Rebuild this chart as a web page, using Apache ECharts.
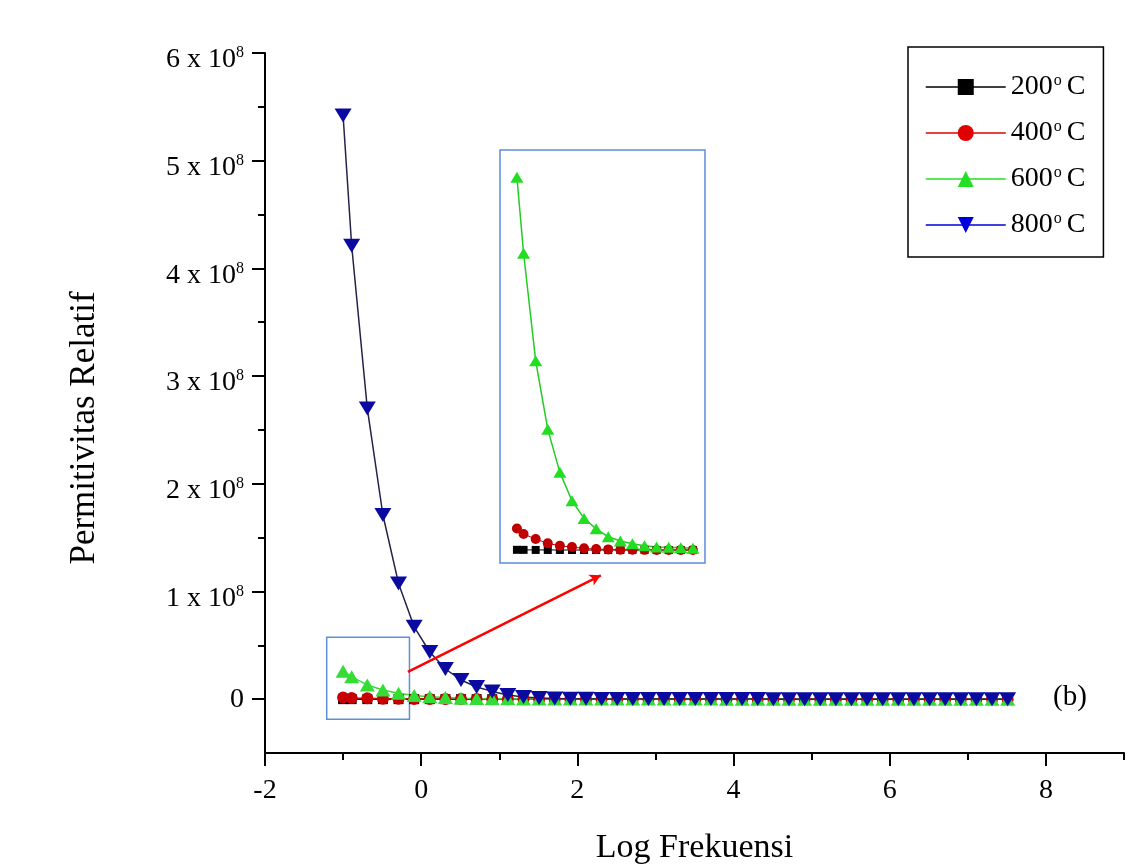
<!DOCTYPE html>
<html><head><meta charset="utf-8">
<script src="https://cdn.jsdelivr.net/npm/echarts@6/dist/echarts.min.js"></script>
<style>html,body{margin:0;padding:0;background:#fff}#chart{width:1146px;height:864px}</style>
</head><body><div id="chart"></div>
<script>
// ---- data ----
const logFreq = [-1.00, -0.89, -0.69, -0.49, -0.29, -0.09, 0.11, 0.31, 0.51, 0.71, 0.91, 1.11, 1.31, 1.51, 1.71, 1.91,
  2.11, 2.31, 2.51, 2.71, 2.91, 3.11, 3.31, 3.51, 3.71, 3.91, 4.11, 4.31, 4.51, 4.71, 4.91, 5.11, 5.31, 5.51, 5.71, 5.91,
  6.11, 6.31, 6.51, 6.71, 6.91, 7.11, 7.31, 7.51];
const eps200 = [2.0e4, 1.6e4, 1.2e4, 9.0e3, 7.0e3, 5.5e3, 4.3e3, 3.4e3, 2.7e3, 2.2e3, 1.8e3, 1.5e3, 1.25e3, 1.05e3, 900, 780,
  680, 600, 530, 470, 420, 380, 340, 310, 280, 255, 235, 215, 198, 183, 170, 158, 147, 137, 128, 120, 112, 105, 99, 93, 88, 83, 78, 74];
const eps400 = [1.51e6, 1.12e6, 7.7e5, 4.7e5, 3.0e5, 2.1e5, 1.2e5, 7.0e4, 5.0e4, 3.0e4, 2.2e4, 1.6e4, 1.2e4, 9.5e3, 7.6e3, 6.2e3,
  5.1e3, 4.3e3, 3.6e3, 3.1e3, 2.7e3, 2.3e3, 2.0e3, 1.8e3, 1.6e3, 1.4e3, 1.25e3, 1.1e3, 1.0e3, 900, 810, 730, 660, 600, 545, 495,
  450, 410, 375, 340, 310, 285, 260, 240];
const eps600 = [2.60e7, 2.07e7, 1.32e7, 8.42e6, 5.42e6, 3.44e6, 2.21e6, 1.49e6, 9.3e5, 6.3e5, 4.4e5, 3.0e5, 2.1e5, 1.9e5, 1.6e5, 1.2e5,
  1.0e5, 8.5e4, 7.2e4, 6.1e4, 5.2e4, 4.5e4, 3.9e4, 3.4e4, 3.0e4, 2.6e4, 2.3e4, 2.0e4, 1.8e4, 1.6e4, 1.4e4, 1.25e4, 1.1e4, 9.8e3,
  8.7e3, 7.7e3, 6.9e3, 6.1e3, 5.4e3, 4.8e3, 4.3e3, 3.8e3, 3.4e3, 3.0e3];
const eps800 = [5.42e8, 4.21e8, 2.70e8, 1.71e8, 1.075e8, 6.72e7, 4.38e7, 2.80e7, 1.78e7, 1.13e7, 7.2e6, 3.8e6, 2.0e6, 1.1e6, 7.0e5, 4.5e5,
  3.2e5, 2.4e5, 1.9e5, 1.5e5, 1.2e5, 1.0e5, 8.0e4, 6.5e4, 5.3e4, 4.4e4, 3.7e4, 3.1e4, 2.6e4, 2.2e4, 1.9e4, 1.6e4, 1.4e4, 1.2e4,
  1.0e4, 8.8e3, 7.6e3, 6.6e3, 5.7e3, 5.0e3, 4.4e3, 3.8e3, 3.3e3, 2.9e3];
const seriesNames = ['200°C', '400°C', '600°C', '800°C'];
const xTickValues = [-2, 0, 2, 4, 6, 8];
const xMinorTickValues = [-1, 1, 3, 5, 7, 9];
const yTickValues = [0, 1e8, 2e8, 3e8, 4e8, 5e8, 6e8];
const yMinorTickValues = [0.5e8, 1.5e8, 2.5e8, 3.5e8, 4.5e8, 5.5e8];
const insetCount = 16;

// ---- chart ----
const SERIF = '"Liberation Serif", "Times New Roman", serif';
const pairs = arr => logFreq.map((x, i) => [x, arr[i]]);
const insetPairs = arr => pairs(arr).slice(0, insetCount);

const chart = echarts.init(document.getElementById('chart'), null, {renderer: 'canvas'});

const option = {
  backgroundColor: '#fff',
  animation: false,
  grid: [
    {left: 265, right: 22, top: 53, bottom: 111, containLabel: false, outerBoundsMode: 'none'},
    {left: 500, top: 150, width: 205, height: 413, show: true, borderColor: '#5b8fd9', borderWidth: 1.5,
      backgroundColor: '#fff', z: 3, containLabel: false, outerBoundsMode: 'none'}
  ],
  xAxis: [
    {
      type: 'value', gridIndex: 0, position: 'bottom', min: -2, max: 9,
      splitLine: {show: false},
      axisLine: {show: true, onZero: false, lineStyle: {color: '#000', width: 2}},
      axisTick: {show: true, customValues: xTickValues, length: 13, lineStyle: {color: '#000', width: 2}},
      axisLabel: {customValues: xTickValues, color: '#000', fontFamily: SERIF, fontSize: 28, margin: 24},
      name: 'Log Frekuensi', nameLocation: 'middle', nameGap: 78,
      nameTextStyle: {color: '#000', fontFamily: SERIF, fontSize: 34}
    },
    {
      type: 'value', gridIndex: 0, position: 'bottom', min: -2, max: 9,
      splitLine: {show: false}, axisLine: {show: false, onZero: false}, axisLabel: {show: false},
      axisTick: {show: true, customValues: xMinorTickValues, length: 7, lineStyle: {color: '#000', width: 2}}
    },
    {type: 'value', gridIndex: 1, min: -1.28, max: 2.11, show: false}
  ],
  yAxis: [
    {
      type: 'value', gridIndex: 0, position: 'left', min: -0.5e8, max: 6e8,
      splitLine: {show: false},
      axisLine: {show: true, onZero: false, lineStyle: {color: '#000', width: 2}},
      axisTick: {show: true, customValues: yTickValues, length: 13, lineStyle: {color: '#000', width: 2}},
      axisLabel: {
        customValues: yTickValues, color: '#000', fontFamily: SERIF, fontSize: 28, margin: 21,
        formatter: v => v === 0 ? '0' : ('{n|' + Math.round(v / 1e8) + ' x 10}{s|8}'),
        rich: {
          n: {fontFamily: SERIF, fontSize: 28, color: '#000', padding: [14, 0, 0, 0]},
          s: {fontFamily: SERIF, fontSize: 16, color: '#000', verticalAlign: 'middle'}
        }
      }
    },
    {
      type: 'value', gridIndex: 0, position: 'left', min: -0.5e8, max: 6e8,
      splitLine: {show: false}, axisLine: {show: false, onZero: false}, axisLabel: {show: false},
      axisTick: {show: true, customValues: yMinorTickValues, length: 7, lineStyle: {color: '#000', width: 2}}
    },
    {type: 'value', gridIndex: 1, min: -0.9e6, max: 27.9e6, show: false}
  ],
  legend: {
    left: 908, top: 47, orient: 'vertical',
    padding: [26, 18, 18, 17],
    itemWidth: 80, itemHeight: 20, itemGap: 18,
    borderColor: '#000', borderWidth: 1.5, backgroundColor: '#fff',
    selectedMode: false,
    formatter: n => n.replace('°', '{s|o}'),
    textStyle: {
      color: '#000', fontFamily: SERIF, fontSize: 28, lineHeight: 28,
      rich: {s: {fontFamily: SERIF, fontSize: 16, color: '#000', verticalAlign: 'top', padding: [0, 5, 0, 1]}}
    },
    data: [
      {name: seriesNames[0], itemStyle: {color: '#000'}, lineStyle: {color: '#000', width: 1.5}},
      {name: seriesNames[1], itemStyle: {color: '#e00000'}, lineStyle: {color: '#e00000', width: 1.5}},
      {name: seriesNames[2], itemStyle: {color: '#22e022'}, lineStyle: {color: '#22e022', width: 1.5}},
      {name: seriesNames[3], itemStyle: {color: '#0000dd'}, lineStyle: {color: '#0000dd', width: 1.5}}
    ]
  },
  graphic: [
    {type: 'text', x: 85, y: 428, rotation: Math.PI / 2,
      style: {text: 'Permitivitas Relatif', fontFamily: SERIF, fontSize: 35, fill: '#000', align: 'center', verticalAlign: 'middle'}},
    {type: 'text', x: 1070, y: 697,
      style: {text: '(b)', fontFamily: SERIF, fontSize: 29, fill: '#000', align: 'center', verticalAlign: 'middle'}}
  ],
  series: [
    {
      name: seriesNames[0], type: 'line', xAxisIndex: 0, yAxisIndex: 0, data: pairs(eps200),
      symbol: 'rect', symbolSize: 10, itemStyle: {color: '#000'}, lineStyle: {color: '#000', width: 1.5},
      markArea: {
        silent: true, label: {show: false},
        itemStyle: {color: 'rgba(0,0,0,0)', borderColor: '#5b8fd9', borderWidth: 1.5},
        data: [[{coord: [-1.21, 0.575e8]}, {coord: [-0.15, -0.187e8]}]]
      }
    },
    {
      name: seriesNames[1], type: 'line', xAxisIndex: 0, yAxisIndex: 0, data: pairs(eps400),
      symbol: 'circle', symbolSize: 12, itemStyle: {color: '#c80000'}, lineStyle: {color: '#c80000', width: 1.5}
    },
    {
      name: seriesNames[2], type: 'line', xAxisIndex: 0, yAxisIndex: 0, data: pairs(eps600),
      symbol: 'triangle', symbolSize: [15, 13], itemStyle: {color: '#36dc36'}, lineStyle: {color: '#36dc36', width: 1.5}
    },
    {
      name: seriesNames[3], type: 'line', xAxisIndex: 0, yAxisIndex: 0, data: pairs(eps800),
      symbol: 'triangle', symbolRotate: 180, symbolSize: [17, 14],
      itemStyle: {color: '#0a0aa0'}, lineStyle: {color: '#23234a', width: 1.5},
      markLine: {
        silent: true, symbol: ['none', 'arrow'], symbolSize: [9, 11], label: {show: false},
        lineStyle: {color: '#ff0000', width: 2.5, type: 'solid'},
        data: [[{coord: [-0.17, 0.253e8]}, {coord: [2.30, 1.15e8]}]]
      }
    },
    {
      name: seriesNames[0], type: 'line', xAxisIndex: 2, yAxisIndex: 2, data: insetPairs(eps200), z: 4,
      symbol: 'rect', symbolSize: 8, itemStyle: {color: '#000'}, lineStyle: {color: '#000', width: 1}
    },
    {
      name: seriesNames[1], type: 'line', xAxisIndex: 2, yAxisIndex: 2, data: insetPairs(eps400), z: 4,
      symbol: 'circle', symbolSize: 10, itemStyle: {color: '#c00000'}, lineStyle: {color: '#c00000', width: 1}
    },
    {
      name: seriesNames[2], type: 'line', xAxisIndex: 2, yAxisIndex: 2, data: insetPairs(eps600), z: 4,
      symbol: 'triangle', symbolSize: [13, 11], itemStyle: {color: '#22dd22'}, lineStyle: {color: '#22cc22', width: 1.5}
    }
  ]
};
chart.setOption(option);
</script></body></html>
